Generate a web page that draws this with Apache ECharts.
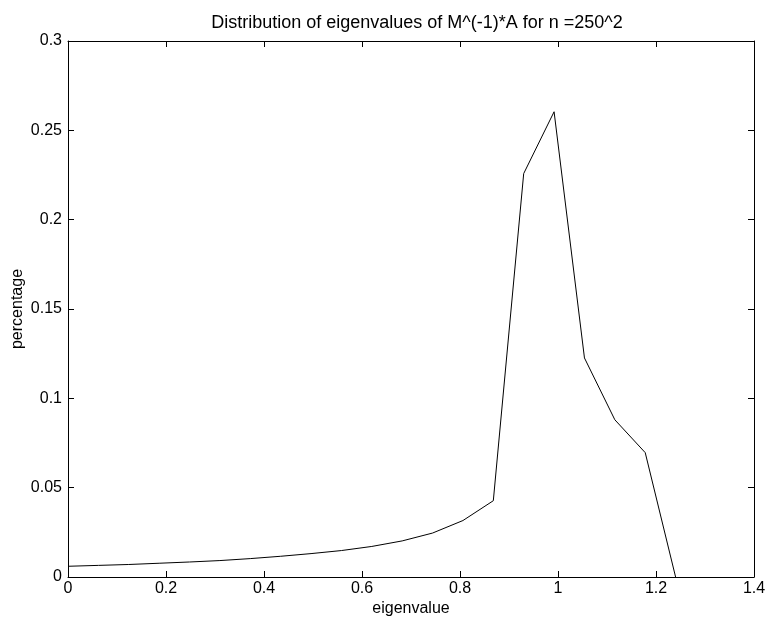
<!DOCTYPE html>
<html>
<head>
<meta charset="utf-8">
<script src="https://cdn.jsdelivr.net/npm/echarts@6/dist/echarts.min.js"></script>
<style>
html,body{margin:0;padding:0;background:#fff;}
#chart{width:768px;height:622px;}
</style>
</head>
<body>
<div id="chart"></div>
<script>
var eigenvalues = [0, 0.062, 0.124, 0.186, 0.248, 0.31, 0.372, 0.434, 0.496, 0.558, 0.62, 0.682, 0.744, 0.806, 0.868, 0.93, 0.992, 1.054, 1.116, 1.178, 1.24];
var percentage = [0.0060, 0.0065, 0.0070, 0.0077, 0.0084, 0.0092, 0.0103, 0.0116, 0.0131, 0.0148, 0.0171, 0.0202, 0.0246, 0.0316, 0.0427, 0.2258, 0.2604, 0.1226, 0.0880, 0.0696, 0.0];
var titleText = 'Distribution of eigenvalues of M^(-1)*A for n =250^2';
var xName = 'eigenvalue';
var yName = 'percentage';

var pts = eigenvalues.map(function (x, i) { return [x, percentage[i]]; });
var font = 'Liberation Sans, Arial, Helvetica, sans-serif';
var axisLine = { show: true, onZero: false, lineStyle: { color: '#000', width: 1 } };
var tick = { show: true, inside: true, length: 6, lineStyle: { color: '#000', width: 1 } };

var chart = echarts.init(document.getElementById('chart'), null, { renderer: 'canvas' });
chart.setOption({
  animation: false,
  backgroundColor: '#fff',
  title: {
    text: titleText,
    left: 412, textAlign: 'center', top: 9,
    textStyle: { fontFamily: font, fontSize: 18, fontWeight: 'normal', color: '#000' }
  },
  grid: { left: 68, right: 14, top: 41, bottom: 45, containLabel: false, outerBoundsMode: 'none' },
  xAxis: [{
    type: 'value', min: 0, max: 1.4, interval: 0.2,
    name: xName, nameLocation: 'middle', nameGap: 24, nameMoveOverlap: false,
    nameTextStyle: { fontFamily: font, fontSize: 16, color: '#000' },
    axisLine: axisLine, axisTick: tick, splitLine: { show: false },
    axisLabel: { fontFamily: font, fontSize: 16, color: '#000', margin: 4 }
  }, {
    type: 'value', position: 'top', min: 0, max: 1.4, interval: 0.2,
    axisLine: axisLine, axisTick: tick, splitLine: { show: false },
    axisLabel: { show: false }
  }],
  yAxis: [{
    type: 'value', min: 0, max: 0.3, interval: 0.05,
    name: yName, nameLocation: 'middle', nameGap: 42, nameMoveOverlap: false,
    nameTextStyle: { fontFamily: font, fontSize: 16, color: '#000' },
    axisLine: axisLine, axisTick: tick, splitLine: { show: false },
    axisLabel: { fontFamily: font, fontSize: 16, color: '#000', margin: 6 }
  }, {
    type: 'value', position: 'right', min: 0, max: 0.3, interval: 0.05,
    axisLine: axisLine, axisTick: tick, splitLine: { show: false },
    axisLabel: { show: false }
  }],
  series: [{
    type: 'line', data: pts, xAxisIndex: 0, yAxisIndex: 0,
    showSymbol: false, symbol: 'none',
    lineStyle: { color: '#000', width: 1 }
  }]
});
</script>
</body>
</html>
